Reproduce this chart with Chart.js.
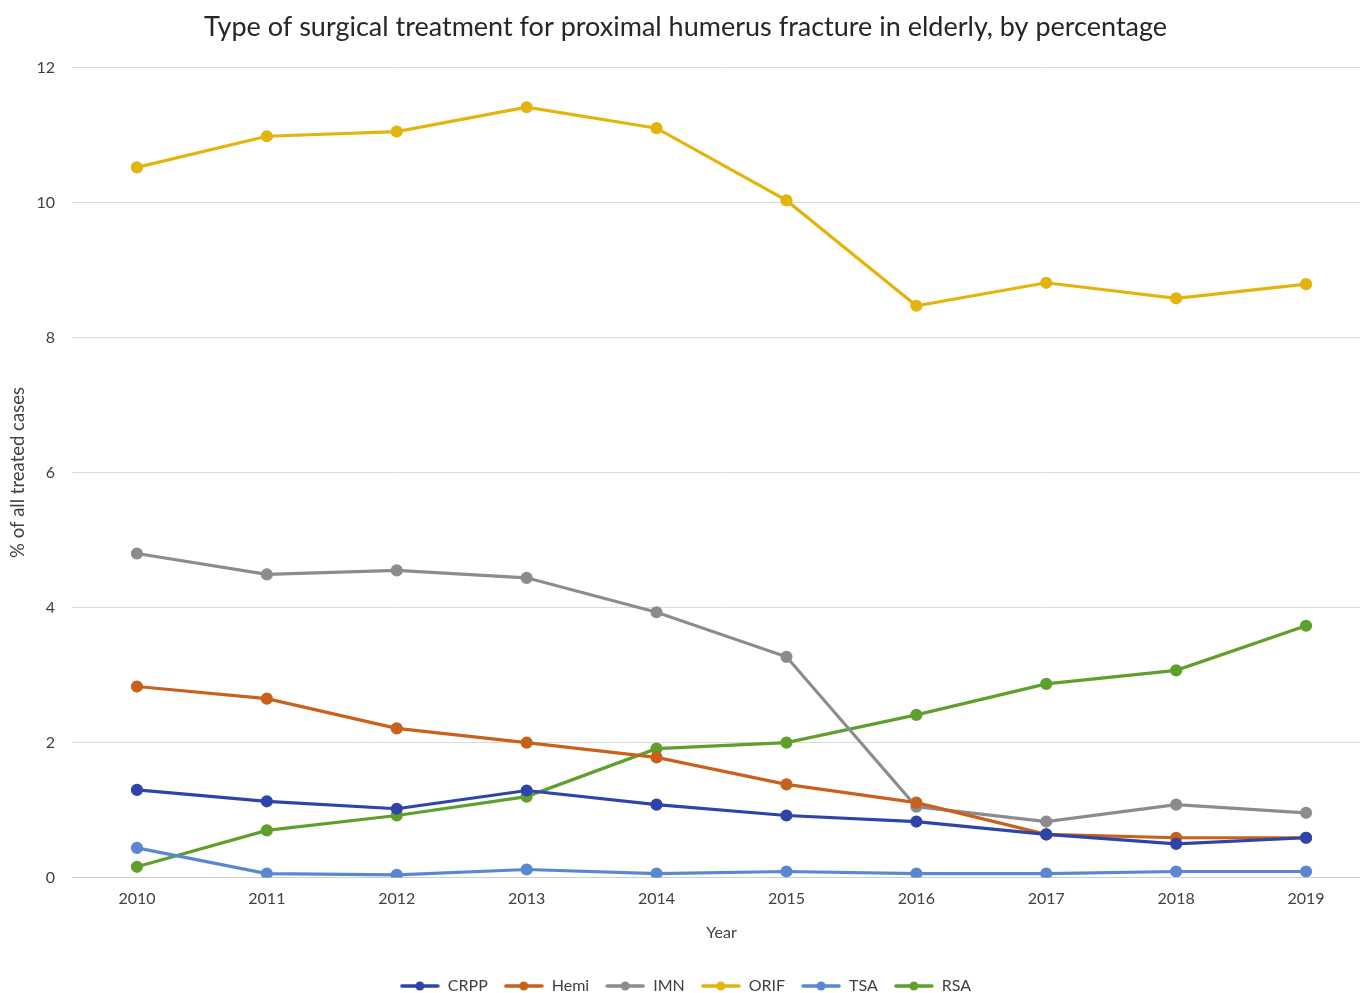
<!DOCTYPE html>
<html>
<head>
<meta charset="utf-8">
<script src="https://cdn.jsdelivr.net/npm/chart.js@4.4.1/dist/chart.umd.min.js"></script>
<style>
  html, body { margin: 0; padding: 0; background: #fff; overflow: hidden; }
  #c { display: block; }
</style>
</head>
<body>
<canvas id="c" width="1371" height="1004"></canvas>
<script>
const years = ['2010','2011','2012','2013','2014','2015','2016','2017','2018','2019'];
const crpp = [1.30, 1.13, 1.02, 1.29, 1.08, 0.92, 0.83, 0.64, 0.50, 0.59];
const hemi = [2.83, 2.65, 2.21, 2.00, 1.78, 1.38, 1.11, 0.64, 0.59, 0.59];
const imn  = [4.80, 4.49, 4.55, 4.44, 3.93, 3.27, 1.05, 0.83, 1.08, 0.96];
const orif = [10.52, 10.98, 11.05, 11.41, 11.10, 10.03, 8.47, 8.81, 8.58, 8.79];
const tsa  = [0.44, 0.06, 0.04, 0.12, 0.06, 0.09, 0.06, 0.06, 0.09, 0.09];
const rsa  = [0.16, 0.70, 0.92, 1.20, 1.91, 2.00, 2.41, 2.87, 3.07, 3.73];
const seriesNames = ['CRPP','Hemi','IMN','ORIF','TSA','RSA'];
const seriesColors = ['#2f44a8','#c8611c','#8c8c8c','#e3b40d','#5b87d1','#5fa02d'];
const seriesData = [crpp, hemi, imn, orif, tsa, rsa];

const FONT = 'Lato, "Open Sans", sans-serif';

function legendIcon(color) {
  const cv = document.createElement('canvas');
  cv.width = 40; cv.height = 12;
  const g = cv.getContext('2d');
  g.strokeStyle = color; g.lineWidth = 3.5; g.lineCap = 'round';
  g.beginPath(); g.moveTo(2, 6); g.lineTo(38, 6); g.stroke();
  g.fillStyle = color;
  g.beginPath(); g.arc(20, 6, 4.5, 0, Math.PI * 2); g.fill();
  return cv;
}

const datasets = seriesNames.map((n, i) => ({
  label: n,
  data: seriesData[i],
  borderColor: seriesColors[i],
  backgroundColor: seriesColors[i],
  borderWidth: 3.2,
  pointRadius: 4.5,
  pointHoverRadius: 4.5,
  pointBackgroundColor: seriesColors[i],
  pointBorderColor: seriesColors[i],
  tension: 0
}));

new Chart(document.getElementById('c'), {
  type: 'line',
  data: { labels: years, datasets },
  options: {
    responsive: false,
    animation: false,
    layout: { autoPadding: false, padding: { left: 0, right: 0, top: 0, bottom: 0 } },
    plugins: {
      title: {
        display: true,
        text: 'Type of surgical treatment for proximal humerus fracture in elderly, by percentage',
        color: '#262626',
        font: { family: FONT, size: 27, weight: 'normal' },
        padding: { top: 11, bottom: 24 }
      },
      legend: {
        position: 'bottom',
        labels: {
          usePointStyle: true,
          pointStyleWidth: 40,
          color: '#404040',
          font: { family: FONT, size: 16 },
          padding: 16,
          generateLabels: (chart) => chart.data.datasets.map((d, i) => ({
            text: d.label,
            pointStyle: legendIcon(d.borderColor),
            fillStyle: d.borderColor,
            strokeStyle: d.borderColor,
            lineWidth: 0,
            fontColor: '#404040',
            datasetIndex: i,
            hidden: false
          }))
        }
      },
      tooltip: { enabled: false }
    },
    scales: {
      x: {
        offset: true,
        grid: { display: false, drawTicks: false },
        border: { display: true, color: '#d0d0d0', width: 1 },
        ticks: { color: '#404040', font: { family: FONT, size: 16 }, padding: 12 },
        title: { display: true, text: 'Year', color: '#404040', font: { family: FONT, size: 16 }, padding: { top: 2, bottom: 20 } }
      },
      y: {
        min: 0, max: 12,
        ticks: { stepSize: 2, color: '#404040', font: { family: FONT, size: 16 }, padding: 17 },
        grid: { color: '#d9d9d9', lineWidth: 1, drawTicks: false },
        border: { display: false },
        title: { display: true, text: '% of all treated cases', color: '#404040', font: { family: FONT, size: 18.5 }, padding: { top: 7, bottom: 0 } },
        afterFit: (s) => { s.width = 72; }
      }
    }
  }
});
</script>
</body>
</html>
